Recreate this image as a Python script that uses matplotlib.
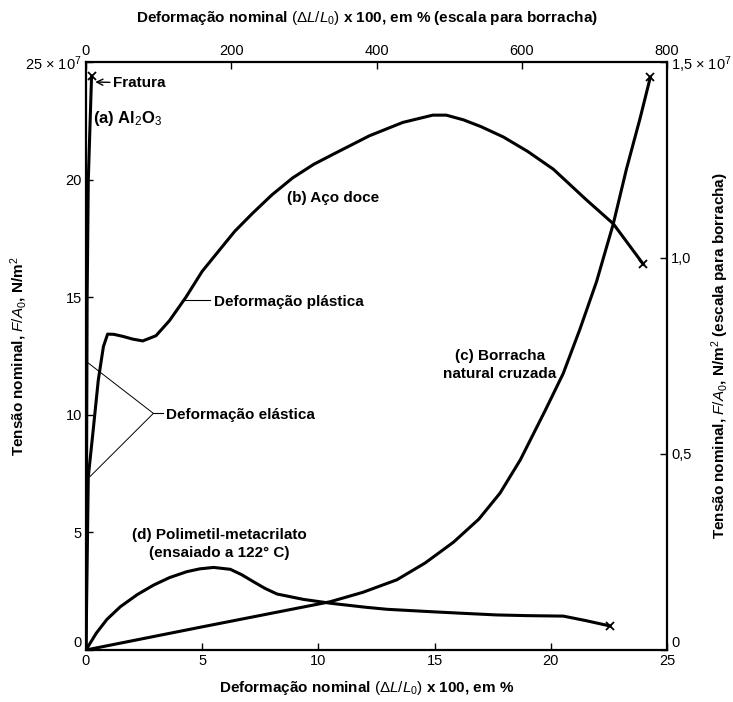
import matplotlib
matplotlib.use("Agg")
import matplotlib.pyplot as plt

plt.rcParams['font.family'] = ['Liberation Sans', 'DejaVu Sans']
plt.rcParams['mathtext.fontset'] = 'custom'
plt.rcParams['mathtext.rm'] = 'Liberation Sans'
plt.rcParams['mathtext.it'] = 'Liberation Sans:italic'
plt.rcParams['mathtext.bf'] = 'Liberation Sans:bold'

# strain in %, stress in 10^7 N/m^2 (left / bottom scales)
al2o3_strain = [0, 0.05, 0.1, 0.24]
al2o3_stress = [0, 15.0, 20.0, 24.4]

steel_strain = [0, 0.1, 0.31, 0.53, 0.75, 0.93, 1.2, 1.6, 2.0, 2.44, 3.01,
                3.59, 4.3, 5.0, 5.74, 6.4, 7.17, 8.0, 8.89, 9.8, 10.76, 12.19,
                13.63, 14.92, 15.5, 16.24, 17.0, 17.96, 19.0, 20.11, 21.54,
                22.69, 23.98]
steel_stress = [0, 7.37, 9.35, 11.48, 12.9, 13.43, 13.42, 13.33, 13.22, 13.14,
                13.36, 14.0, 15.0, 16.1, 17.0, 17.8, 18.57, 19.35, 20.07,
                20.65, 21.14, 21.86, 22.43, 22.74, 22.74, 22.54, 22.25, 21.81,
                21.2, 20.44, 19.13, 18.12, 16.4]

pmma_strain = [0, 0.44, 0.9, 1.48, 2.2, 2.91, 3.6, 4.34, 4.9, 5.49, 6.21, 6.7,
               7.21, 7.7, 8.22, 9.36, 10.58, 12.0, 12.95, 14.8, 16.2, 17.67,
               19.0, 20.54, 21.5, 22.55]
pmma_stress = [0, 0.71, 1.3, 1.84, 2.35, 2.76, 3.08, 3.33, 3.45, 3.51, 3.43,
               3.2, 2.9, 2.62, 2.38, 2.15, 1.98, 1.82, 1.73, 1.63, 1.56, 1.49,
               1.46, 1.44, 1.25, 1.02]

# rubber: strain in % (top scale), stress in 10^7 N/m^2 (right scale)
rubber_strain = [0, 160, 336, 381, 428, 467, 506, 541, 570, 598, 632, 657,
                 680, 703, 726, 744, 763, 777]
rubber_stress = [0, 0.059, 0.123, 0.147, 0.179, 0.222, 0.275, 0.334, 0.400,
                 0.485, 0.610, 0.705, 0.818, 0.940, 1.087, 1.226, 1.357, 1.461]

bottom_ticks = [0, 5, 10, 15, 20, 25]
left_ticks = [0, 5, 10, 15, 20, 25]
left_labels = ['0', '5', '10', '15', '20', r'25 × 10$^7$']
top_ticks = [0, 200, 400, 600, 800]
right_ticks = [0, 0.5, 1.0, 1.5]
right_labels = ['0', '0,5', '1,0', r'1,5 × 10$^7$']

fig = plt.figure(figsize=(7.33, 7.02), dpi=100)
rect = [0.1173, 0.0741, 0.7927, 0.8376]
ax = fig.add_axes(rect)
axr = fig.add_axes(rect, frameon=False)

lw = 2.2
ax.plot(al2o3_strain, al2o3_stress, color='black', lw=lw, solid_joinstyle='round')
ax.plot(steel_strain, steel_stress, color='black', lw=lw, solid_joinstyle='round')
ax.plot(pmma_strain, pmma_stress, color='black', lw=lw, solid_joinstyle='round')
axr.plot(rubber_strain, rubber_stress, color='black', lw=lw, solid_joinstyle='round')

# fracture marks
ax.plot([al2o3_strain[-1], steel_strain[-1], pmma_strain[-1]],
        [al2o3_stress[-1], steel_stress[-1], pmma_stress[-1]],
        'x', color='black', ms=6, mew=1.3)
axr.plot([rubber_strain[-1]], [rubber_stress[-1]], 'x', color='black', ms=6, mew=1.3)

ax.set_xlim(0, 25)
ax.set_ylim(0, 25)
ax.set_xticks(bottom_ticks)
ax.set_yticks(left_ticks)
ylabs = ax.set_yticklabels(left_labels)
ylabs[0].set_va('bottom')
ax.tick_params(direction='in', length=5, width=1, labelsize=10.5, pad=3)
for s in ax.spines.values():
    s.set_linewidth(1.6)

axr.set_xlim(0, 800)
axr.set_ylim(0, 1.5)
axr.xaxis.tick_top()
axr.yaxis.tick_right()
axr.set_xticks(top_ticks)
axr.set_yticks(right_ticks)
rlabs = axr.set_yticklabels(right_labels)
rlabs[0].set_va('bottom')
axr.tick_params(direction='in', length=5, width=1, labelsize=10.5, pad=3)
axr.patch.set_visible(False)

fw = 'bold'
fs = 11
ax.annotate('Fratura', xy=(0.4, 24.15), xytext=(1.15, 24.1),
            fontsize=fs, fontweight=fw, va='center', ha='left',
            arrowprops=dict(arrowstyle='->', lw=1.0, color='black',
                            shrinkA=0, shrinkB=0))
ax.text(0.31, 22.6, r'(a) Al$_2$O$_3$', fontsize=12, fontweight=fw, va='center')
ax.text(8.65, 19.2, '(b) Aço doce', fontsize=fs, fontweight=fw, va='center')

ax.plot([4.2, 5.35], [14.88, 14.88], color='black', lw=0.8)
ax.text(5.49, 14.8, 'Deformação plástica', fontsize=fs, fontweight=fw, va='center')

ax.plot([0.1, 2.9, 0.17], [12.2, 10.06, 7.37], color='black', lw=0.7)
ax.plot([2.9, 3.33], [10.06, 10.06], color='black', lw=0.8)
ax.text(3.44, 10.0, 'Deformação elástica', fontsize=fs, fontweight=fw, va='center')

ax.text(17.8, 12.1, '(c) Borracha\nnatural cruzada', fontsize=fs,
        fontweight=fw, ha='center', va='center', linespacing=1.35)
ax.text(5.75, 4.52, '(d) Polimetil-metacrilato\n(ensaiado a 122° C)', fontsize=fs,
        fontweight=fw, ha='center', va='center', linespacing=1.35)

fig.text(0.5, 0.02, r'Deformação nominal $(\Delta L/L_0)$ x 100, em %',
         fontsize=fs, fontweight=fw, ha='center', va='center')
fig.text(0.5, 0.975, r'Deformação nominal $(\Delta L/L_0)$ x 100, em % (escala para borracha)',
         fontsize=fs, fontweight=fw, ha='center', va='center')
fig.text(0.025, 0.493, r'Tensão nominal, $F/A_0$, N/m$^2$', fontsize=fs,
         fontweight=fw, ha='center', va='center', rotation=90)
fig.text(0.9825, 0.493, r'Tensão nominal, $F/A_0$, N/m$^2$ (escala para borracha)',
         fontsize=fs, fontweight=fw, ha='center', va='center', rotation=90)

fig.savefig('out.png', dpi=100)
